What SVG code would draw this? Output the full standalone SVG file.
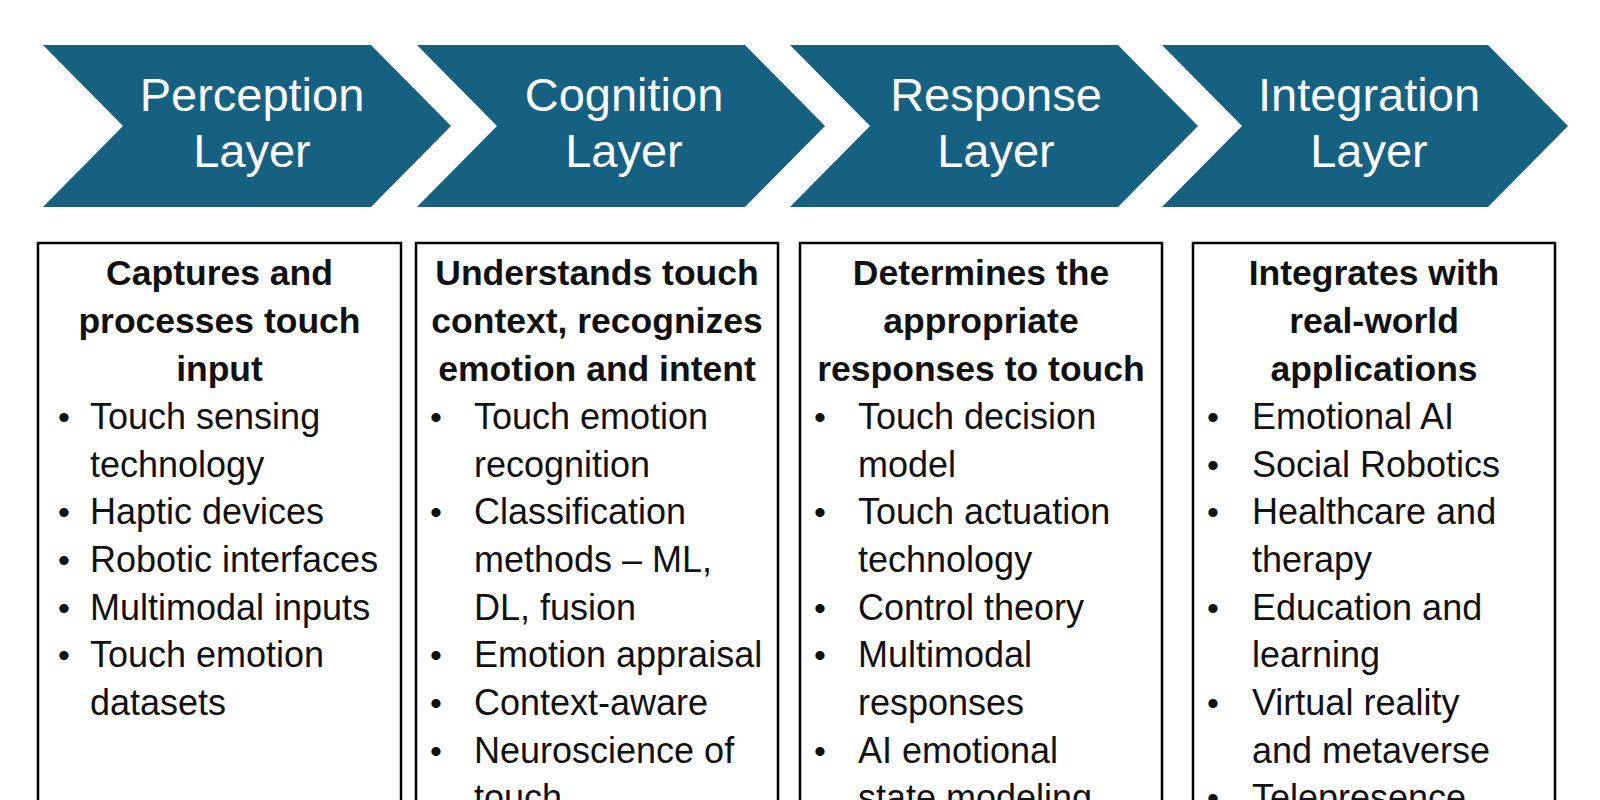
<svg xmlns="http://www.w3.org/2000/svg" width="1600" height="800" viewBox="0 0 1600 800">
<style>
.chev{fill:#166082}
.ct{font-family:"Liberation Sans",Arial,sans-serif;font-size:47px;fill:#ffffff;text-anchor:middle}
.box{fill:#ffffff;stroke:#000000;stroke-width:2.5}
.hd{font-family:"Liberation Sans",Arial,sans-serif;font-size:35.5px;font-weight:bold;fill:#111111;text-anchor:middle}
.bd{font-family:"Liberation Sans",Arial,sans-serif;font-size:36px;fill:#111111}
.bu{font-family:"Liberation Sans",Arial,sans-serif;font-size:34px;fill:#111111;text-anchor:middle}
</style>
<rect width="1600" height="800" fill="#ffffff"/>

<g id="chevron-perception">
<polygon class="chev" points="43,45 371,45 451,126 371,207 43,207 123,126"/>
<text class="ct" x="252" y="111">Perception</text>
<text class="ct" x="252" y="167">Layer</text>
</g>
<g id="chevron-cognition">
<polygon class="chev" points="417,45 745,45 825,126 745,207 417,207 497,126"/>
<text class="ct" x="624" y="111">Cognition</text>
<text class="ct" x="624" y="167">Layer</text>
</g>
<g id="chevron-response">
<polygon class="chev" points="790,45 1118,45 1198,126 1118,207 790,207 870,126"/>
<text class="ct" x="996" y="111">Response</text>
<text class="ct" x="996" y="167">Layer</text>
</g>
<g id="chevron-integration">
<polygon class="chev" points="1162,45 1488,45 1568,126 1488,207 1162,207 1242,126"/>
<text class="ct" x="1369" y="111">Integration</text>
<text class="ct" x="1369" y="167">Layer</text>
</g>

<g id="box-perception">
<rect class="box" x="38" y="243" width="363" height="580"/>
<text class="hd" x="219.5" y="285">Captures and</text>
<text class="hd" x="219.5" y="333">processes touch</text>
<text class="hd" x="219.5" y="381">input</text>
<text class="bu" x="64" y="429">•</text><text class="bd" x="90" y="429">Touch sensing</text>
<text class="bd" x="90" y="477">technology</text>
<text class="bu" x="64" y="524">•</text><text class="bd" x="90" y="524">Haptic devices</text>
<text class="bu" x="64" y="572">•</text><text class="bd" x="90" y="572">Robotic interfaces</text>
<text class="bu" x="64" y="620">•</text><text class="bd" x="90" y="620">Multimodal inputs</text>
<text class="bu" x="64" y="667">•</text><text class="bd" x="90" y="667">Touch emotion</text>
<text class="bd" x="90" y="715">datasets</text>
</g>

<g id="box-cognition">
<rect class="box" x="416" y="243" width="362" height="580"/>
<text class="hd" x="597" y="285">Understands touch</text>
<text class="hd" x="597" y="333">context, recognizes</text>
<text class="hd" x="597" y="381">emotion and intent</text>
<text class="bu" x="436" y="429">•</text><text class="bd" x="474" y="429">Touch emotion</text>
<text class="bd" x="474" y="477">recognition</text>
<text class="bu" x="436" y="524">•</text><text class="bd" x="474" y="524">Classification</text>
<text class="bd" x="474" y="572">methods – ML,</text>
<text class="bd" x="474" y="620">DL, fusion</text>
<text class="bu" x="436" y="667">•</text><text class="bd" x="474" y="667">Emotion appraisal</text>
<text class="bu" x="436" y="715">•</text><text class="bd" x="474" y="715">Context-aware</text>
<text class="bu" x="436" y="763">•</text><text class="bd" x="474" y="763">Neuroscience of</text>
<text class="bd" x="474" y="810">touch</text>
</g>

<g id="box-response">
<rect class="box" x="800" y="243" width="362" height="580"/>
<text class="hd" x="981" y="285">Determines the</text>
<text class="hd" x="981" y="333">appropriate</text>
<text class="hd" x="981" y="381">responses to touch</text>
<text class="bu" x="820" y="429">•</text><text class="bd" x="858" y="429">Touch decision</text>
<text class="bd" x="858" y="477">model</text>
<text class="bu" x="820" y="524">•</text><text class="bd" x="858" y="524">Touch actuation</text>
<text class="bd" x="858" y="572">technology</text>
<text class="bu" x="820" y="620">•</text><text class="bd" x="858" y="620">Control theory</text>
<text class="bu" x="820" y="667">•</text><text class="bd" x="858" y="667">Multimodal</text>
<text class="bd" x="858" y="715">responses</text>
<text class="bu" x="820" y="763">•</text><text class="bd" x="858" y="763">AI emotional</text>
<text class="bd" x="858" y="810">state modeling</text>
</g>

<g id="box-integration">
<rect class="box" x="1193" y="243" width="362" height="580"/>
<text class="hd" x="1374" y="285">Integrates with</text>
<text class="hd" x="1374" y="333">real-world</text>
<text class="hd" x="1374" y="381">applications</text>
<text class="bu" x="1213" y="429">•</text><text class="bd" x="1252" y="429">Emotional AI</text>
<text class="bu" x="1213" y="477">•</text><text class="bd" x="1252" y="477">Social Robotics</text>
<text class="bu" x="1213" y="524">•</text><text class="bd" x="1252" y="524">Healthcare and</text>
<text class="bd" x="1252" y="572">therapy</text>
<text class="bu" x="1213" y="620">•</text><text class="bd" x="1252" y="620">Education and</text>
<text class="bd" x="1252" y="667">learning</text>
<text class="bu" x="1213" y="715">•</text><text class="bd" x="1252" y="715">Virtual reality</text>
<text class="bd" x="1252" y="763">and metaverse</text>
<text class="bu" x="1213" y="810">•</text><text class="bd" x="1252" y="810">Telepresence</text>
</g>
</svg>
